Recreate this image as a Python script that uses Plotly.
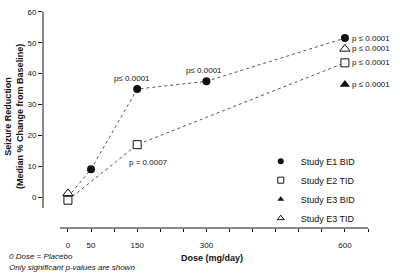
import plotly.graph_objects as go

# ---- data ----
e1_dose = [0, 50, 150, 300, 600]
e1_red = [0, 9, 35, 37.5, 51.5]
e2_dose = [0, 150, 600]
e2_red = [-1, 17, 43.5]
e3b_dose = [600]
e3b_red = [36.5]
e3t_dose = [0, 600]
e3t_red = [1.2, 48]

series_names = ["Study E1 BID", "Study E2 TID", "Study E3 BID", "Study E3 TID"]

x_tickvals = list(range(0, 651, 50))
x_labels = {0: "0", 50: "50", 150: "150", 300: "300", 600: "600"}
y_tickvals = [0, 10, 20, 30, 40, 50, 60]

font = "Liberation Sans, Arial, sans-serif"
ink = "#111111"
line_col = "#555555"

m_e1 = dict(symbol="circle", color=ink)
m_e2 = dict(symbol="square", color="white", line=dict(color=ink, width=1))
m_e3b = dict(symbol="triangle-up", color=ink)
m_e3t = dict(symbol="triangle-up", color="white", line=dict(color=ink, width=1))

fig = go.Figure()
fig.add_trace(go.Scatter(x=e1_dose, y=e1_red, mode="lines+markers", showlegend=False,
                         line=dict(color=line_col, width=1, dash="dot"),
                         marker=dict(size=8, **m_e1)))
fig.add_trace(go.Scatter(x=e2_dose, y=e2_red, mode="lines+markers", showlegend=False,
                         line=dict(color=line_col, width=1, dash="dot"),
                         marker=dict(size=8, **m_e2)))
fig.add_trace(go.Scatter(x=e3b_dose, y=e3b_red, mode="markers", showlegend=False,
                         marker=dict(size=9, **m_e3b)))
fig.add_trace(go.Scatter(x=e3t_dose, y=e3t_red, mode="markers", showlegend=False,
                         marker=dict(size=9, **m_e3t)))
# legend entries (markers only, smaller symbols)
for name, m in zip(series_names, [m_e1, m_e2, m_e3b, m_e3t]):
    fig.add_trace(go.Scatter(x=[None], y=[None], mode="markers", name=name,
                             marker=dict(size=6, **m)))

ann = []
ann_font = dict(family=font, size=8, color=ink)
ann.append(dict(x=e1_dose[2], y=e1_red[2], text="p≤ 0.0001", showarrow=False,
                xshift=-5, yshift=11, font=ann_font))
ann.append(dict(x=e1_dose[3], y=e1_red[3], text="p≤ 0.0001", showarrow=False,
                xshift=-2, yshift=11, font=ann_font))
ann.append(dict(x=e2_dose[1], y=e2_red[1], text="p = 0.0007", showarrow=False,
                xshift=11, yshift=-18, font=ann_font))
for yv in [e1_red[-1], e3t_red[-1], e2_red[-1], e3b_red[-1]]:
    ann.append(dict(x=600, y=yv, text="p ≤ 0.0001", showarrow=False, xanchor="left",
                    xshift=5, font=ann_font))

ann.append(dict(xref="paper", yref="paper", x=-0.089, y=0.51, textangle=-90,
                xanchor="center", yanchor="middle",
                text="<b>Seizure Reduction<br>(Median % Change from Baseline)</b>",
                showarrow=False, font=dict(family=font, size=9, color=ink)))
ann.append(dict(xref="paper", yref="paper", x=0.52, y=-0.136, yanchor="middle",
                text="<b>Dose (mg/day)</b>", showarrow=False,
                font=dict(family=font, size=9, color=ink)))
ann.append(dict(xref="paper", yref="paper", x=-0.11, y=-0.13, xanchor="left", yanchor="middle",
                text="<i>0 Dose = Placebo</i>", showarrow=False,
                font=dict(family=font, size=8, color=ink)))
ann.append(dict(xref="paper", yref="paper", x=-0.11, y=-0.18, xanchor="left", yanchor="middle",
                text="<i>Only significant p-values are shown</i>", showarrow=False,
                font=dict(family=font, size=8, color=ink)))

shapes = [
    dict(type="line", xref="paper", yref="y", x0=0, x1=0, y0=-3.5, y1=60,
         line=dict(color=ink, width=1)),
    dict(type="line", xref="x", yref="paper", x0=-17, x1=650, y0=0, y1=0,
         line=dict(color=ink, width=1)),
]

fig.update_layout(
    width=400, height=277,
    margin=dict(l=43, r=32, t=8, b=49),
    paper_bgcolor="white", plot_bgcolor="white",
    font=dict(family=font, size=8, color=ink),
    showlegend=True,
    legend=dict(x=0.67, y=0.373, xanchor="left", yanchor="top",
                font=dict(family=font, size=9, color=ink),
                bgcolor="rgba(0,0,0,0)", tracegroupgap=0, itemwidth=30),
    annotations=ann, shapes=shapes,
    xaxis=dict(range=[-54, 650], showgrid=False, zeroline=False, showline=False,
               tickmode="array", tickvals=x_tickvals,
               ticktext=[x_labels.get(v, "") for v in x_tickvals],
               ticks="outside", ticklen=3, tickcolor=ink, ticklabelstandoff=6,
               tickfont=dict(family=font, size=8, color=ink)),
    yaxis=dict(range=[-10, 60.6], showgrid=False, zeroline=False, showline=False,
               tickmode="array", tickvals=y_tickvals,
               ticks="outside", ticklen=4, tickcolor=ink,
               tickfont=dict(family=font, size=8, color=ink)),
)

fig.write_html("out.html")
